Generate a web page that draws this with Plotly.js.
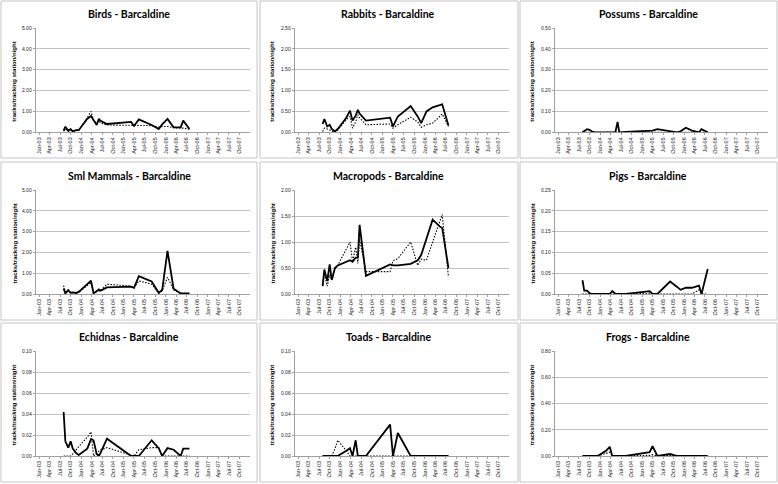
<!DOCTYPE html>
<html><head><meta charset="utf-8">
<script src="https://cdn.plot.ly/plotly-3.0.1.min.js"></script>
<style>html,body{margin:0;padding:0;background:#fff}#chart{width:778px;height:484px}</style>
</head><body><div id="chart"></div>
<script>
// ---- DATA ----
const surveyDates = ['2003-08-01','2003-08-16','2003-09-10','2003-10-01','2003-10-19','2003-11-16','2003-12-10',
  '2004-02-22','2004-03-25','2004-04-16','2004-05-13','2004-06-01','2004-06-16','2004-08-10',
  '2005-03-07','2005-04-01','2005-05-13','2005-09-01','2005-11-01','2005-12-01','2006-01-16',
  '2006-03-10','2006-05-10','2006-06-01','2006-07-25'];

const panelTitles = ['Birds - Barcaldine','Rabbits - Barcaldine','Possums - Barcaldine',
  'Sml Mammals - Barcaldine','Macropods - Barcaldine','Pigs - Barcaldine',
  'Echidnas - Barcaldine','Toads - Barcaldine','Frogs - Barcaldine'];
const yAxisLabel = 'tracks/tracking station/night';
const yMax = [5, 2.5, 0.5, 5, 2, 0.25, 0.1, 0.1, 0.8];
const yStep = [1, 0.5, 0.1, 1, 0.5, 0.05, 0.02, 0.02, 0.2];

const birdsSolid   = [0.08,0.27,0.08,0.15,0.05,0.10,0.10,0.65,0.78,0.60,0.35,0.65,0.55,0.40,0.50,0.30,0.62,0.35,0.16,0.38,0.64,0.24,0.24,0.56,0.16];
const birdsDotted  = [0.05,0.15,0.05,0.10,0.05,0.08,0.10,0.70,1.00,0.55,0.45,0.55,0.45,0.35,0.33,0.33,0.33,0.32,0.25,0.28,0.28,0.22,0.20,0.20,0.15];
const rabbitsSolid = [0.20,0.32,0.14,0.18,0.08,0.02,0.08,0.35,0.52,0.28,0.40,0.54,0.45,0.28,0.35,0.14,0.38,0.63,0.38,0.22,0.50,0.60,0.65,0.67,0.16];
const rabbitsDotted= [0.02,0.10,0.08,0.05,0.02,0.00,0.05,0.30,0.38,0.10,0.25,0.42,0.35,0.18,0.20,0.10,0.18,0.36,0.25,0.12,0.18,0.22,0.38,0.44,0.14];
const possumsSolid = [0,0.005,0.015,0.012,0.005,0,0,0,0,0,0,0.05,0,0.002,0.005,0.008,0.015,0.003,0,0.005,0.022,0.008,0,0.015,0];
const possumsDotted= [0,0,0.002,0.002,0,0,0,0,0,0,0,0.002,0,0,0,0.002,0.002,0,0,0,0.003,0,0,0.002,0];
const smlSolid     = [0.27,0.03,0.19,0.06,0.08,0.05,0.10,0.45,0.64,0.03,0.15,0.22,0.16,0.32,0.35,0.30,0.86,0.60,0.06,0.19,2.07,0.25,0.03,0.03,0.03];
const smlDotted    = [0.40,0.05,0.15,0.05,0.05,0.03,0.08,0.40,0.55,0.05,0.12,0.15,0.15,0.47,0.38,0.30,0.63,0.47,0.03,0.15,0.80,0.20,0.02,0.02,0.02];
const macroSolid   = [0.15,0.47,0.25,0.57,0.27,0.50,0.55,0.62,0.65,0.62,0.70,0.70,1.33,0.35,0.57,0.55,0.55,0.58,0.65,0.75,1.06,1.43,1.30,1.27,0.50];
const macroDotted  = [0.19,0.40,0.15,0.37,0.27,0.50,0.55,0.85,1.00,0.62,0.90,0.59,1.05,0.43,0.43,0.64,0.68,1.00,0.55,0.67,0.65,1.00,1.40,1.53,0.33];
const pigsSolid    = [0.033,0.008,0.008,0.002,0,0,0,0,0,0.007,0.001,0,0,0,0.007,0,0,0.03,0.017,0.01,0.015,0.015,0.02,0,0.06];
const pigsDotted   = [0,0,0,0,0,0,0,0,0,0,0,0,0,0,0.002,0,0,0,0,0,0,0,0.01,0,0];
const echSolid     = [0.042,0.014,0.008,0.014,0.007,0.003,0.001,0.007,0.016,0.015,0.002,0,0.003,0.0165,0,0,0,0.015,0.0075,0,0.0075,0.006,0,0.007,0.007];
const echDotted    = [0,0,0,0,0.002,0.006,0.009,0.018,0.023,0,0.003,0.005,0.006,0.008,0.001,0,0.006,0.008,0.008,0,0,0,0,0,0];
const toadsSolid   = [0,0,0,0,0,0,0,0.005,0.0075,0,0.015,0,0,0,0.03,0,0.022,0,0,0,0,0,0,0,0];
const toadsDotted  = [0,0,0,0,0,0.007,0.015,0.005,0,0,0,0,0,0,0,0,0,0,0,0,0,0,0,0,0];
const frogsSolid   = [0,0,0,0,0,0,0,0.04,0.07,0,0,0,0,0,0.03,0.075,0,0.015,0,0,0,0,0,0,0];
const frogsDotted  = [0,0,0,0,0,0,0,0.02,0.03,0,0,0,0,0,0.005,0.01,0,0.005,0,0,0,0,0,0,0];

const solidSeries  = [birdsSolid, rabbitsSolid, possumsSolid, smlSolid, macroSolid, pigsSolid, echSolid, toadsSolid, frogsSolid];
const dottedSeries = [birdsDotted, rabbitsDotted, possumsDotted, smlDotted, macroDotted, pigsDotted, echDotted, toadsDotted, frogsDotted];

// ---- LAYOUT ----
const W = 778, H = 484;
const px = v => v / W, py = v => 1 - v / H;
const plotCols = [[36, 250], [295, 509], [555, 768]];
const plotRows = [[28, 132.3], [190, 294], [351.3, 456]];
const frameCols = [[1, 257], [260, 518], [520, 777]];
const frameRows = [[1, 158], [162, 320], [323, 482]];
const titleX = [129, 388, 648];
const titleY = [14, 176, 337];
const yTitleX = [14, 272, 532];

const traces = [];
const layout = {
  width: W, height: H,
  margin: {l: 0, r: 0, t: 0, b: 0},
  paper_bgcolor: '#ffffff', plot_bgcolor: '#ffffff',
  showlegend: false,
  shapes: [], annotations: []
};

for (let i = 0; i < 9; i++) {
  const r = Math.floor(i / 3), c = i % 3;
  const s = i === 0 ? '' : String(i + 1);
  const xa = 'x' + s, ya = 'y' + s;
  traces.push({x: surveyDates, y: dottedSeries[i], xaxis: xa, yaxis: ya, type: 'scatter', mode: 'lines',
    line: {color: '#000', width: 1.1, dash: '1.5px,1.5px'}, connectgaps: true, hoverinfo: 'skip'});
  traces.push({x: surveyDates, y: solidSeries[i], xaxis: xa, yaxis: ya, type: 'scatter', mode: 'lines',
    line: {color: '#000', width: 1.8}, connectgaps: true, hoverinfo: 'skip'});

  layout['xaxis' + s] = {
    domain: [px(plotCols[c][0]), px(plotCols[c][1])],
    anchor: ya, type: 'date',
    range: ['2002-12-05', '2007-12-31'],
    tick0: '2003-01-01', dtick: 'M3', tickformat: '%b-%y',
    tickangle: -90, tickfont: {family: 'Liberation Sans', size: 5.5, color: '#222'},
    ticks: 'outside', ticklen: 2, tickcolor: '#888', tickwidth: 0.8,
    showgrid: false, showline: true, linecolor: '#888', linewidth: 0.8,
    zeroline: false, fixedrange: true, automargin: false
  };
  layout['yaxis' + s] = {
    domain: [py(plotRows[r][1]), py(plotRows[r][0])],
    anchor: xa, range: [0, yMax[i]], dtick: yStep[i], tick0: 0, tickformat: '.2f',
    tickfont: {family: 'Liberation Sans', size: 5, color: '#222'},
    ticks: 'outside', ticklen: 2.5, tickcolor: '#888', tickwidth: 0.8,
    showgrid: true, gridcolor: '#b4b4b4', gridwidth: 0.8,
    showline: true, linecolor: '#888', linewidth: 0.8,
    zeroline: false, fixedrange: true, automargin: false
  };

  layout.shapes.push({type: 'rect', xref: 'paper', yref: 'paper',
    x0: px(frameCols[c][0]), x1: px(frameCols[c][1]),
    y0: py(frameRows[r][1]), y1: py(frameRows[r][0]),
    line: {color: '#c4c4c4', width: 1}, fillcolor: 'rgba(0,0,0,0)', layer: 'below'});

  layout.annotations.push({text: '<b>' + panelTitles[i] + '</b>', xref: 'paper', yref: 'paper',
    x: px(titleX[c]), y: py(titleY[r]), xanchor: 'center', yanchor: 'middle', showarrow: false,
    font: {family: 'Lato', size: 10.5, color: '#000'}});
  layout.annotations.push({text: '<b>' + yAxisLabel + '</b>', xref: 'paper', yref: 'paper',
    x: px(yTitleX[c]), y: py((plotRows[r][0] + plotRows[r][1]) / 2 + 1.5), textangle: -90,
    xanchor: 'center', yanchor: 'middle', showarrow: false,
    font: {family: 'Liberation Sans', size: 6, color: '#000'}});
}

Plotly.newPlot('chart', traces, layout, {staticPlot: true, displayModeBar: false});
</script>
</body></html>
